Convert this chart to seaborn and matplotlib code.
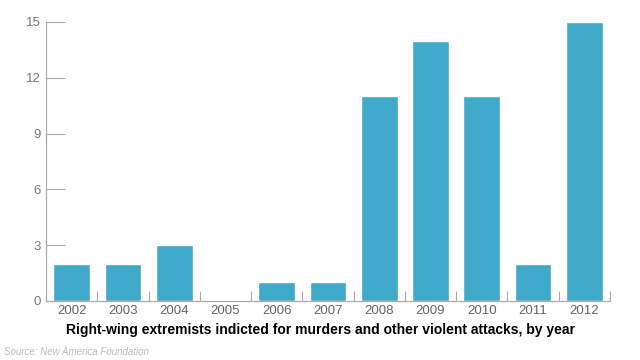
import matplotlib
matplotlib.use("Agg")
import matplotlib.pyplot as plt
import seaborn as sns
import pandas as pd

years = ["2002", "2003", "2004", "2005", "2006", "2007", "2008", "2009", "2010", "2011", "2012"]
indicted = [2, 2, 3, 0, 1, 1, 11, 14, 11, 2, 15]

df = pd.DataFrame({"year": years, "count": indicted})

sns.set_style("white")
plt.rcParams['font.family'] = ['Liberation Sans', 'DejaVu Sans']

fig = plt.figure(figsize=(6.4, 3.6), dpi=100)
ax = fig.add_axes([0.072, 0.164, 0.881, 0.775])

sns.barplot(data=df, x="year", y="count", color="#41a9c9", saturation=1,
            width=0.72, ax=ax)

ax.set_ylim(0, 15)
ax.set_xlim(-0.5, len(years) - 0.5)
ax.set_yticks([0, 3, 6, 9, 12, 15])
ax.set_xlabel("")
ax.set_ylabel("")

grey = "#aaaaaa"
for side in ["top", "right"]:
    ax.spines[side].set_visible(False)
for side in ["left", "bottom"]:
    ax.spines[side].set_color(grey)
    ax.spines[side].set_linewidth(0.9)

ax.tick_params(axis="y", left=True, direction="in", length=14, width=0.8, color=grey,
               labelsize=9.5, labelcolor="#777777", pad=4)
ax.tick_params(axis="x", length=0, labelsize=9.5, labelcolor="#666666", pad=3)

# small separators between categories
ax.set_xticks([i + 0.5 for i in range(len(years))], minor=True)
ax.tick_params(axis="x", which="minor", bottom=True, direction="in", length=7,
               width=0.8, color=grey)

fig.text(0.5, 0.083, "Right-wing extremists indicted for murders and other violent attacks, by year",
         ha="center", va="center", fontsize=10, fontweight="bold", color="black")
fig.text(0.006, 0.022, "Source: New America Foundation", ha="left", va="center",
         fontsize=7, style="italic", color="#bbbbbb")

fig.savefig("out.png", dpi=100)
